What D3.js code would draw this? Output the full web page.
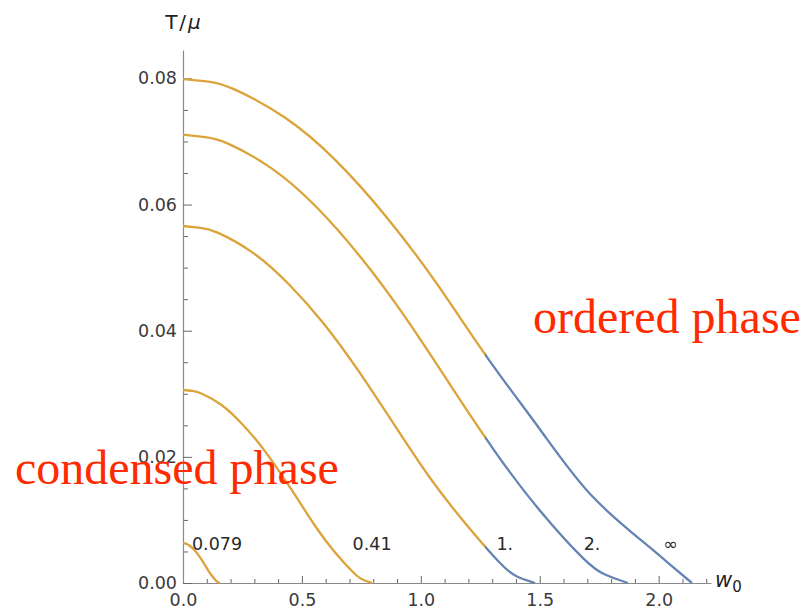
<!DOCTYPE html>
<html>
<head>
<meta charset="utf-8">
<script src="https://cdn.jsdelivr.net/npm/d3@7"></script>
<style>
  html, body { margin: 0; padding: 0; background: #fff; }
  svg { display: block; }
</style>
</head>
<body>
<svg id="chart" width="812" height="609"></svg>
<script>
// Phase boundary T/mu versus w0, one curve per coupling value
const seriesNames = ["0.079", "0.41", "1.", "2.", "\u221e"];

const w_0079 = [0, 0.00775, 0.0155, 0.031, 0.0465, 0.062, 0.0775, 0.093, 0.1085, 0.124, 0.1395, 0.14725, 0.155];
const T_0079 = [0.0063, 0.00627, 0.00617, 0.00582, 0.00528, 0.00457, 0.00373, 0.00279, 0.00186, 0.00104, 0.00035, 0.00011, 0];

const w_041 = [0, 0.03975, 0.0795, 0.159, 0.2385, 0.318, 0.3975, 0.477, 0.5565, 0.636, 0.7155, 0.755, 0.795];
const T_041 = [0.0306, 0.03045, 0.0300, 0.0283, 0.0256, 0.0222, 0.0181, 0.0136, 0.0090, 0.0050, 0.0017, 0.00055, 0];

const w_1 = [0, 0.074, 0.148, 0.296, 0.444, 0.592, 0.74, 0.888, 1.036, 1.184, 1.332, 1.406, 1.48];
const T_1 = [0.0566, 0.0563, 0.0555, 0.0523, 0.0474, 0.0411, 0.0335, 0.0251, 0.0168, 0.0096, 0.0032, 0.0010, 0];

const w_2 = [0, 0.0935, 0.187, 0.374, 0.561, 0.748, 0.935, 1.122, 1.309, 1.496, 1.683, 1.7765, 1.87];
const T_2 = [0.0711, 0.0707, 0.0697, 0.0657, 0.0596, 0.0516, 0.0421, 0.0315, 0.0210, 0.0117, 0.0039, 0.0013, 0];

const w_inf = [0, 0.107, 0.214, 0.428, 0.642, 0.856, 1.07, 1.284, 1.498, 1.712, 1.926, 2.033, 2.14];
const T_inf = [0.0799, 0.0795, 0.0783, 0.0738, 0.0670, 0.0580, 0.0473, 0.0355, 0.0245, 0.0141, 0.0068, 0.0034, 0];

// w0 beyond which the boundary belongs to the ordered branch
const orderedFrom = 1.27;

const xMajorTicks = [0, 0.5, 1.0, 1.5, 2.0];
const xMinorTicks = [0.1, 0.2, 0.3, 0.4, 0.6, 0.7, 0.8, 0.9, 1.1, 1.2, 1.3, 1.4, 1.6, 1.7, 1.8, 1.9, 2.1, 2.2];
const yMajorTicks = [0, 0.02, 0.04, 0.06, 0.08];
const yMinorTicks = [0.005, 0.01, 0.015, 0.025, 0.03, 0.035, 0.045, 0.05, 0.055, 0.065, 0.07, 0.075];

const regionLabels = ["ordered phase", "condensed phase"];

const seriesW = [w_0079, w_041, w_1, w_2, w_inf];
const seriesT = [T_0079, T_041, T_1, T_2, T_inf];
const series = seriesNames.map((name, i) => ({
  name,
  points: seriesW[i].map((w, j) => [w, seriesT[i][j]])
}));

// label anchors (data units) for each curve
const labelAt = [[0.143, 0.0062], [0.795, 0.0062], [1.353, 0.0062], [1.72, 0.0062], [2.05, 0.0062]];

const svg = d3.select("#chart");
const x = d3.scaleLinear().domain([0, 2.22]).range([183, 711]);
const y = d3.scaleLinear().domain([0, 0.0845]).range([583, 50]);

const YELLOW = "#dba33a";
const BLUE = "#6583b3";
const AXIS = "#8a8a8a";
const TICK_TEXT = "#3a3a3a";

// clip regions splitting each curve into its two branches
const defs = svg.append("defs");
defs.append("clipPath").attr("id", "clipLeft")
  .append("rect").attr("x", 0).attr("y", 0).attr("width", x(orderedFrom)).attr("height", 609);
defs.append("clipPath").attr("id", "clipRight")
  .append("rect").attr("x", x(orderedFrom)).attr("y", 0).attr("width", 812 - x(orderedFrom)).attr("height", 609);

// axes
function styleAxis(g) {
  g.select(".domain").attr("stroke", AXIS).attr("stroke-width", 1.2);
  g.selectAll(".tick line").attr("stroke", "#666").attr("stroke-width", 1);
  g.selectAll(".tick text").attr("fill", TICK_TEXT)
    .style("font-family", "'DejaVu Sans', sans-serif").style("font-size", "17.5px");
}

const gxMinor = svg.append("g").attr("transform", "translate(0,583)")
  .call(d3.axisBottom(x).tickValues(xMinorTicks).tickSize(-4).tickSizeOuter(0).tickFormat(""));
gxMinor.select(".domain").remove();
gxMinor.selectAll(".tick line").attr("stroke", "#666");

const gx = svg.append("g").attr("transform", "translate(0,583)")
  .call(d3.axisBottom(x).tickValues(xMajorTicks).tickSize(-7).tickSizeOuter(0)
    .tickPadding(11).tickFormat(d3.format(".1f")));
styleAxis(gx);

const gyMinor = svg.append("g").attr("transform", "translate(183,0)")
  .call(d3.axisLeft(y).tickValues(yMinorTicks).tickSize(-5).tickSizeOuter(0).tickFormat(""));
gyMinor.select(".domain").remove();
gyMinor.selectAll(".tick line").attr("stroke", "#666");

const gy = svg.append("g").attr("transform", "translate(183,0)")
  .call(d3.axisLeft(y).tickValues(yMajorTicks).tickSize(-9).tickSizeOuter(0)
    .tickPadding(6).tickFormat(d3.format(".2f")));
styleAxis(gy);

// axis titles
const yTitle = svg.append("text").attr("x", 184).attr("y", 29).attr("text-anchor", "middle")
  .attr("fill", "#222").style("font-family", "'DejaVu Sans', sans-serif").style("font-size", "20px")
  .style("letter-spacing", "2px");
yTitle.append("tspan").text("T/");
yTitle.append("tspan").attr("font-style", "italic").text("\u03bc");

const xTitle = svg.append("text").attr("x", 715).attr("y", 587)
  .attr("fill", "#222").style("font-family", "'DejaVu Sans', sans-serif").style("font-size", "21px");
xTitle.append("tspan").attr("font-style", "italic").text("w");
xTitle.append("tspan").attr("dy", 5).style("font-size", "15px").text("0");

// curves
const line = d3.line().x(d => x(d[0])).y(d => y(d[1])).curve(d3.curveNatural);
const curves = svg.append("g");
series.forEach(s => {
  curves.append("path").attr("d", line(s.points)).attr("fill", "none")
    .attr("stroke", YELLOW).attr("stroke-width", 2.3).attr("clip-path", "url(#clipLeft)");
  curves.append("path").attr("d", line(s.points)).attr("fill", "none")
    .attr("stroke", BLUE).attr("stroke-width", 2.3).attr("clip-path", "url(#clipRight)");
});

// curve labels
svg.append("g").selectAll("text").data(series).join("text")
  .attr("x", (d, i) => x(labelAt[i][0]))
  .attr("y", (d, i) => y(labelAt[i][1]))
  .attr("dy", "0.36em")
  .attr("text-anchor", "middle")
  .attr("fill", "#2a2a2a")
  .style("font-family", "'DejaVu Sans', sans-serif").style("font-size", "17.5px")
  .text(d => d.name);

// phase region annotations
const regionPos = [[533, 333], [15, 484]];
svg.append("g").selectAll("text").data(regionLabels).join("text")
  .attr("x", (d, i) => regionPos[i][0])
  .attr("y", (d, i) => regionPos[i][1])
  .attr("fill", "#ff2a00")
  .style("font-family", "'Liberation Serif', 'Times New Roman', serif").style("font-size", "48px")
  .text(d => d);
</script>
</body>
</html>
